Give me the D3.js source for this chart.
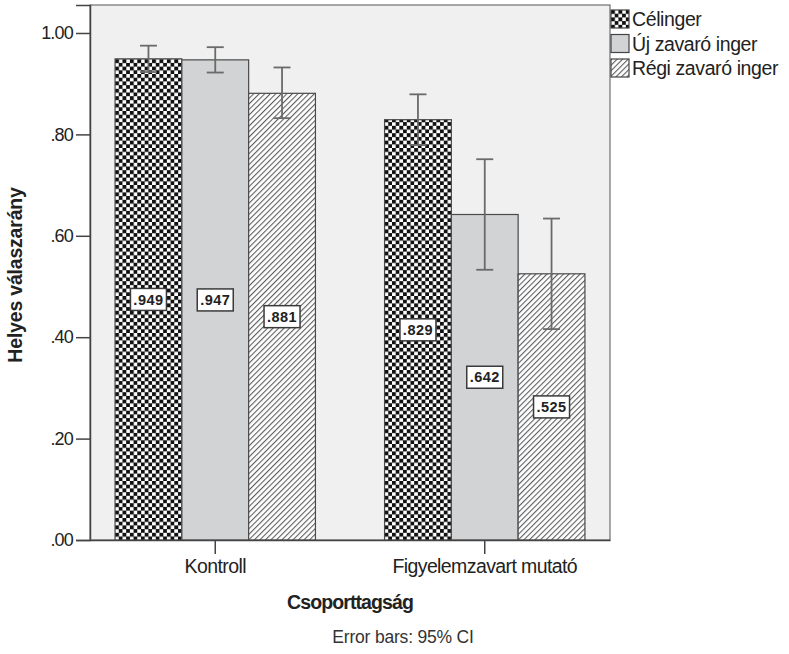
<!DOCTYPE html>
<html>
<head>
<meta charset="utf-8">
<script src="https://cdn.jsdelivr.net/npm/d3@7"></script>
<style>
  body { margin: 0; background: #fff; }
  svg { display: block; font-family: "Liberation Sans", Arial, sans-serif; }
</style>
</head>
<body>
<script>
// chart data
const groups = ["Kontroll", "Figyelemzavart mutató"];
const series = ["Célinger", "Új zavaró inger", "Régi zavaró inger"];
const means = [[0.949, 0.947, 0.881], [0.829, 0.642, 0.525]];
const ciLow = [[0.923, 0.922, 0.832], [0.779, 0.533, 0.416]];
const ciHigh = [[0.975, 0.972, 0.932], [0.879, 0.751, 0.634]];
const yTicks = [0, 0.2, 0.4, 0.6, 0.8, 1.0];

const width = 789;
const height = 654;

var svg = d3.select("body").append("svg")
  .attr("width", width)
  .attr("height", height);

// fill patterns like the SPSS output
var defs = svg.append("defs");

var checker = defs.append("pattern")
  .attr("id", "checker")
  .attr("patternUnits", "userSpaceOnUse")
  .attr("width", 7.4).attr("height", 7.4);
checker.append("rect").attr("width", 7.4).attr("height", 7.4).attr("fill", "#fff");
checker.append("rect").attr("width", 3.9).attr("height", 3.9).attr("fill", "#111");
checker.append("rect").attr("x", 3.7).attr("y", 3.7).attr("width", 3.9).attr("height", 3.9).attr("fill", "#111");

var hatch = defs.append("pattern")
  .attr("id", "hatch")
  .attr("patternUnits", "userSpaceOnUse")
  .attr("width", 3.9).attr("height", 3.9)
  .attr("patternTransform", "rotate(45)");
hatch.append("rect").attr("width", 3.9).attr("height", 3.9).attr("fill", "#fff");
hatch.append("line")
  .attr("x1", 0).attr("y1", 0).attr("x2", 0).attr("y2", 3.9)
  .attr("stroke", "#5e5e5e").attr("stroke-width", 2.2);

const fills = ["url(#checker)", "#d2d3d5", "url(#hatch)"];

// scales
var x0 = d3.scaleBand()
  .domain(groups)
  .range([90, 610])
  .paddingInner(0.2565)
  .paddingOuter(0.093);

var x1 = d3.scaleBand()
  .domain(series)
  .range([0, x0.bandwidth()]);

var y = d3.scaleLinear()
  .domain([0, 1.0552])
  .range([540, 5]);

// plot background
svg.append("rect")
  .attr("x", 90).attr("y", 5)
  .attr("width", 520).attr("height", 535)
  .attr("fill", "#eff0ef")
  .attr("stroke", "#555")
  .attr("stroke-width", 1);

// bars
var g = svg.selectAll("g.group")
  .data(groups)
  .enter().append("g")
  .attr("class", "group")
  .attr("transform", d => "translate(" + x0(d) + ",0)");

var rows = (d, i) => series.map((s, j) => ({ s: s, j: j, v: means[i][j], lo: ciLow[i][j], hi: ciHigh[i][j] }));

g.selectAll("rect.bar")
  .data(rows)
  .enter().append("rect")
  .attr("class", "bar")
  .attr("x", d => x1(d.s))
  .attr("y", d => y(d.v))
  .attr("width", x1.bandwidth())
  .attr("height", d => y(0) - y(d.v))
  .attr("fill", d => fills[d.j])
  .attr("stroke", "#4a4a4a")
  .attr("stroke-width", 1.2);

// error bars
var eb = g.selectAll("g.err")
  .data(rows)
  .enter().append("g")
  .attr("class", "err")
  .attr("stroke", "#6a6a6a")
  .attr("stroke-width", 1.8);

eb.append("line")
  .attr("x1", d => x1(d.s) + x1.bandwidth() / 2)
  .attr("x2", d => x1(d.s) + x1.bandwidth() / 2)
  .attr("y1", d => y(d.lo))
  .attr("y2", d => y(d.hi));
eb.append("line")
  .attr("x1", d => x1(d.s) + x1.bandwidth() / 2 - 8.5)
  .attr("x2", d => x1(d.s) + x1.bandwidth() / 2 + 8.5)
  .attr("y1", d => y(d.hi))
  .attr("y2", d => y(d.hi));
eb.append("line")
  .attr("x1", d => x1(d.s) + x1.bandwidth() / 2 - 8.5)
  .attr("x2", d => x1(d.s) + x1.bandwidth() / 2 + 8.5)
  .attr("y1", d => y(d.lo))
  .attr("y2", d => y(d.lo));

// value labels in the middle of each bar
var fmtVal = v => d3.format(".3f")(v).replace(/^0/, "");
var lab = g.selectAll("g.lab")
  .data(rows)
  .enter().append("g")
  .attr("class", "lab")
  .attr("transform", d => "translate(" + (x1(d.s) + x1.bandwidth() / 2) + "," + (y(d.v / 2)) + ")");
lab.append("rect")
  .attr("x", -18).attr("y", -11)
  .attr("width", 36).attr("height", 22)
  .attr("fill", "#fff")
  .attr("stroke", "#3a3a3a")
  .attr("stroke-width", 1.5);
lab.append("text")
  .attr("text-anchor", "middle")
  .attr("dy", "0.36em")
  .attr("font-size", 14.5)
  .attr("font-weight", "bold")
  .attr("letter-spacing", 0.5)
  .attr("fill", "#222")
  .text(d => fmtVal(d.v));

// axes
var fmtTick = v => d3.format(".2f")(v).replace(/^0/, "");
var yAxis = svg.append("g")
  .attr("transform", "translate(90,0)")
  .call(d3.axisLeft(y).tickValues(yTicks).tickSize(14).tickPadding(3).tickFormat(fmtTick));
yAxis.select(".domain").attr("stroke", "#444").attr("stroke-width", 1.5);
yAxis.selectAll(".tick line").attr("stroke", "#444").attr("stroke-width", 1.5);
yAxis.selectAll("text")
  .attr("font-size", 18)
  .attr("letter-spacing", -0.8)
  .attr("fill", "#222")
  .attr("font-family", "Liberation Sans, Arial, sans-serif");

var xAxis = svg.append("g")
  .attr("transform", "translate(0,540)")
  .call(d3.axisBottom(x0).tickSize(14).tickPadding(5).tickSizeOuter(0));
xAxis.select(".domain").attr("stroke", "#444").attr("stroke-width", 1.5);
xAxis.selectAll(".tick line").attr("stroke", "#444").attr("stroke-width", 1.5);
xAxis.selectAll("text")
  .attr("font-size", 19.5)
  .attr("letter-spacing", -0.6)
  .attr("fill", "#222")
  .attr("font-family", "Liberation Sans, Arial, sans-serif");

// axis titles
svg.append("text")
  .attr("x", 350).attr("y", 609)
  .attr("text-anchor", "middle")
  .attr("font-size", 19.5)
  .attr("font-weight", "bold")
  .attr("letter-spacing", -0.9)
  .attr("fill", "#222")
  .text("Csoporttagság");

svg.append("text")
  .attr("transform", "translate(22,275) rotate(-90)")
  .attr("text-anchor", "middle")
  .attr("font-size", 19.5)
  .attr("font-weight", "bold")
  .attr("letter-spacing", -0.2)
  .attr("fill", "#222")
  .text("Helyes válaszarány");

svg.append("text")
  .attr("x", 403).attr("y", 643)
  .attr("text-anchor", "middle")
  .attr("font-size", 17.5)
  .attr("letter-spacing", -0.2)
  .attr("fill", "#333")
  .text("Error bars: 95% CI");

// legend
var leg = svg.selectAll("g.leg")
  .data(series)
  .enter().append("g")
  .attr("class", "leg")
  .attr("transform", (d, i) => "translate(611," + (10 + i * 24.5) + ")");
leg.append("rect")
  .attr("width", 18).attr("height", 18)
  .attr("fill", (d, i) => fills[i])
  .attr("stroke", "#444")
  .attr("stroke-width", 1.2);
leg.append("text")
  .attr("x", 21).attr("y", 9)
  .attr("dy", "0.36em")
  .attr("font-size", 19.5)
  .attr("letter-spacing", -0.4)
  .attr("fill", "#222")
  .text(d => d);
</script>
</body>
</html>
